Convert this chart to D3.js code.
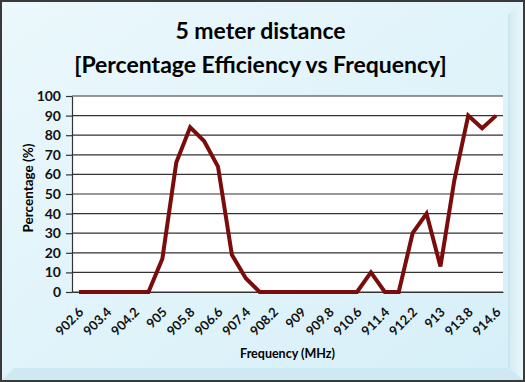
<!DOCTYPE html>
<html>
<head>
<meta charset="utf-8">
<script src="https://cdn.jsdelivr.net/npm/d3@7"></script>
<style>
	body { margin: 0; background: #fff; }
	svg { display: block; font-family: Lato, "Open Sans", sans-serif; }
</style>
</head>
<body>
<div id="chart"></div>
<script>
// frequencies (MHz), one point every 0.4
var frequencies = ["902.6","903","903.4","903.8","904.2","904.6","905","905.4","905.8","906.2",
	"906.6","907","907.4","907.8","908.2","908.6","909","909.4","909.8","910.2",
	"910.6","911","911.4","911.8","912.2","912.6","913","913.4","913.8","914.2","914.6"];
var efficiency = [0,0,0,0,0,0,17,66,84,77,
	64,19,7,0,0,0,0,0,0,0,
	0,10,0,0,30,40,13,57,90,83.5,90];
var yTicks = [0,10,20,30,40,50,60,70,80,90,100];
var titleLines = ["5 meter distance", "[Percentage Efficiency vs Frequency]"];

var W = 525, H = 382;
var margin = {top: 96, right: 22, bottom: 90, left: 72};
var width = W - margin.left - margin.right,
	height = H - margin.top - margin.bottom;

var svg = d3.select("#chart").append("svg")
		.attr("width", W)
		.attr("height", H);

var defs = svg.append("defs");
var bg = defs.append("linearGradient")
		.attr("id", "bg")
		.attr("x1", 0).attr("y1", 0).attr("x2", 1).attr("y2", 1);
bg.append("stop").attr("offset", "0%").attr("stop-color", "#ebf8fc");
bg.append("stop").attr("offset", "100%").attr("stop-color", "#d6eff8");
var bevel = defs.append("linearGradient")
		.attr("id", "bevel")
		.attr("x1", 0).attr("y1", 0).attr("x2", 1).attr("y2", 0);
bevel.append("stop").attr("offset", "0%").attr("stop-color", "#d4ecf4");
bevel.append("stop").attr("offset", "100%").attr("stop-color", "#eaf7fb");

// frame
svg.append("rect")
		.attr("x", 1).attr("y", 1)
		.attr("width", W - 2).attr("height", H - 2)
		.attr("fill", "url(#bg)")
		.attr("stroke", "#3a3a3a")
		.attr("stroke-width", 2);
// right and bottom bevel
svg.append("path")
		.attr("d", `M${W-2},2 L${W-16},14 L${W-16},${H-14} L${W-2},${H-2} Z`)
		.attr("fill", "url(#bevel)");
svg.append("path")
		.attr("d", `M2,${H-2} L14,${H-14} L${W-16},${H-14} L${W-2},${H-2} Z`)
		.attr("fill", "#cfe9f2");
svg.append("line")
		.attr("x1", W - 16).attr("y1", 14).attr("x2", W - 16).attr("y2", H - 14)
		.attr("stroke", "#c0dde8");

// title
svg.append("g").selectAll("text")
		.data(titleLines)
	.enter().append("text")
		.attr("x", W / 2 - 2)
		.attr("y", (d, i) => 39 + i * 34)
		.attr("text-anchor", "middle")
		.attr("font-size", 23)
		.attr("font-weight", "bold")
		.attr("fill", "#000")
		.text(d => d);

var g = svg.append("g")
		.attr("transform", `translate(${margin.left}, ${margin.top})`);

var x = d3.scalePoint()
		.domain(frequencies)
		.range([0, width])
		.padding(0.5);
var y = d3.scaleLinear()
		.domain([0, 100])
		.range([height, 0]);

g.append("rect")
		.attr("width", width)
		.attr("height", height)
		.attr("fill", "#fff");

// gridlines
g.append("g").selectAll("line")
		.data(yTicks)
	.enter().append("line")
		.attr("x1", 0).attr("x2", width)
		.attr("y1", d => y(d)).attr("y2", d => y(d))
		.attr("stroke", "#333")
		.attr("stroke-width", 1.2);

var yaxis = d3.axisLeft(y)
		.tickValues(yTicks)
		.tickSize(6)
		.tickSizeOuter(0)
		.tickPadding(5);
var ya = g.append("g").call(yaxis);
ya.select(".domain").attr("stroke", "#333").attr("stroke-width", 1.2);
ya.selectAll(".tick line").attr("stroke", "#333").attr("stroke-width", 1.2);
ya.selectAll("text")
		.attr("font-size", 14)
		.attr("font-weight", "bold")
		.attr("font-family", "Lato, sans-serif")
		.attr("fill", "#111");

var xaxis = d3.axisBottom(x)
		.tickValues(frequencies.filter((d, i) => i % 2 == 0))
		.tickSize(0)
		.tickSizeOuter(0);
var xa = g.append("g")
		.attr("transform", `translate(0, ${height})`)
		.call(xaxis);
xa.select(".domain").attr("stroke", "#333").attr("stroke-width", 1.2);
xa.selectAll("text")
		.attr("font-size", 13)
		.attr("font-weight", "bold")
		.attr("font-family", "Lato, sans-serif")
		.attr("fill", "#111")
		.attr("text-anchor", "end")
		.attr("dy", null)
		.attr("y", 0)
		.attr("transform", "translate(5, 21) rotate(-45)");

// axis titles
svg.append("text")
		.attr("x", margin.left + width / 2)
		.attr("y", 358)
		.attr("text-anchor", "middle")
		.attr("font-size", 12.5)
		.attr("font-weight", "bold")
		.text("Frequency (MHz)");
svg.append("text")
		.attr("transform", `translate(33, ${margin.top + height / 2 - 6}) rotate(-90)`)
		.attr("text-anchor", "middle")
		.attr("font-size", 13.5)
		.attr("font-weight", "bold")
		.text("Percentage (%)");

var line = d3.line()
		.x((d, i) => x(frequencies[i]))
		.y(d => y(d));

g.append("path")
		.datum(efficiency)
		.attr("d", line)
		.attr("fill", "none")
		.attr("stroke", "#7a0c0c")
		.attr("stroke-width", 4)
		.attr("stroke-linejoin", "miter")
		.attr("stroke-linecap", "butt");
</script>
</body>
</html>
